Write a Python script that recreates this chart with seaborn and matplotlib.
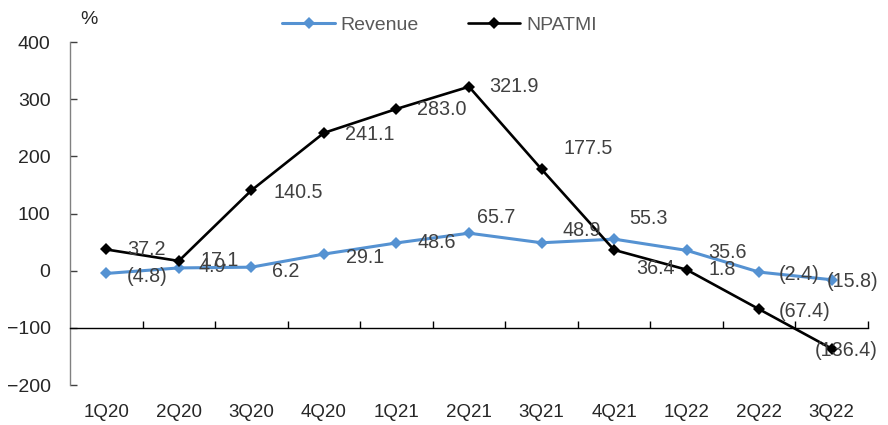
import pandas as pd
import matplotlib.pyplot as plt
import seaborn as sb

# Datos: crecimiento interanual (%)
trimestres = ["1Q20", "2Q20", "3Q20", "4Q20", "1Q21", "2Q21", "3Q21", "4Q21", "1Q22", "2Q22", "3Q22"]
revenue = [-4.8, 4.9, 6.2, 29.1, 48.6, 65.7, 48.9, 55.3, 35.6, -2.4, -15.8]
npatmi = [37.2, 17.1, 140.5, 241.1, 283.0, 321.9, 177.5, 36.4, 1.8, -67.4, -136.4]
yticks = [-200, -100, 0, 100, 200, 300, 400]

# desplazamiento de las etiquetas en pixeles (x, y hacia abajo)
off_rev = [(21, 3), (20, -1), (21, 4), (22, 3), (21, 0), (8, -16), (21, -12), (15, -21), (22, 2), (20, 2), (-5, 2)]
off_np = [(21, 0), (22, 0), (22, 2), (21, 2), (21, 1), (20, 0), (22, -21), (22, 19), (22, 0), (20, 2), (-17, 2)]

df = pd.DataFrame({"pos": range(len(trimestres)), "Revenue": revenue, "NPATMI": npatmi})

sb.set_style("white")
plt.rcParams["font.family"] = ["Liberation Sans", "DejaVu Sans"]

fig, ax = plt.subplots(figsize=(8.88, 4.25), dpi=100)
fig.subplots_adjust(left=0.0788, right=0.9775, top=0.901, bottom=0.094)

azul = "#5592D2"
sb.lineplot(data=df, x="pos", y="Revenue", ax=ax, color=azul, linewidth=2.2,
            marker="D", markersize=6.5, markeredgewidth=0, label="Revenue")
sb.lineplot(data=df, x="pos", y="NPATMI", ax=ax, color="black", linewidth=1.9,
            marker="D", markersize=6.5, markeredgewidth=0, label="NPATMI")

def etiqueta(v):
    return f"({abs(v):.1f})" if v < 0 else f"{v:.1f}"

for i, v in enumerate(revenue):
    dx, dy = off_rev[i]
    ax.annotate(etiqueta(v), (i, v), xytext=(dx, -dy), textcoords="offset pixels",
                ha="left", va="center", fontsize=14.2, color="#404040")
for i, v in enumerate(npatmi):
    dx, dy = off_np[i]
    ax.annotate(etiqueta(v), (i, v), xytext=(dx, -dy), textcoords="offset pixels",
                ha="left", va="center", fontsize=14.2, color="#404040")

ax.set_xlim(-0.5, len(trimestres) - 0.5)
ax.set_ylim(-200, 400)
ax.set_yticks(yticks)
ax.set_xticks(range(len(trimestres)))
ax.set_xticklabels(trimestres)
ax.set_xticks([i + 0.5 for i in range(len(trimestres))], minor=True)
ax.set_xlabel("")
ax.set_ylabel("")

ax.spines["top"].set_visible(False)
ax.spines["right"].set_visible(False)
ax.spines["bottom"].set_position(("data", -100))
ax.spines["bottom"].set_color("black")
ax.spines["bottom"].set_linewidth(1.0)
ax.spines["left"].set_color("#808080")
ax.spines["left"].set_linewidth(1.0)

ax.tick_params(axis="y", direction="in", length=5, width=1, color="#404040",
               labelsize=14, pad=14, left=True)
ax.tick_params(axis="x", which="major", length=0, labelsize=13.5, pad=55, bottom=True)
ax.tick_params(axis="x", which="minor", direction="in", length=5, width=1,
               color="black", bottom=True)

fig.text(0.09, 0.953, "%", fontsize=14, ha="left", va="center")

leg = ax.legend(loc="center", bbox_to_anchor=(0.495, 0.941), bbox_transform=fig.transFigure,
                ncol=2, frameon=False, fontsize=14, handlelength=2.7,
                columnspacing=2.5, handletextpad=0.3)
for t in leg.get_texts():
    t.set_color("#595959")

plt.savefig("out.png", dpi=100)
